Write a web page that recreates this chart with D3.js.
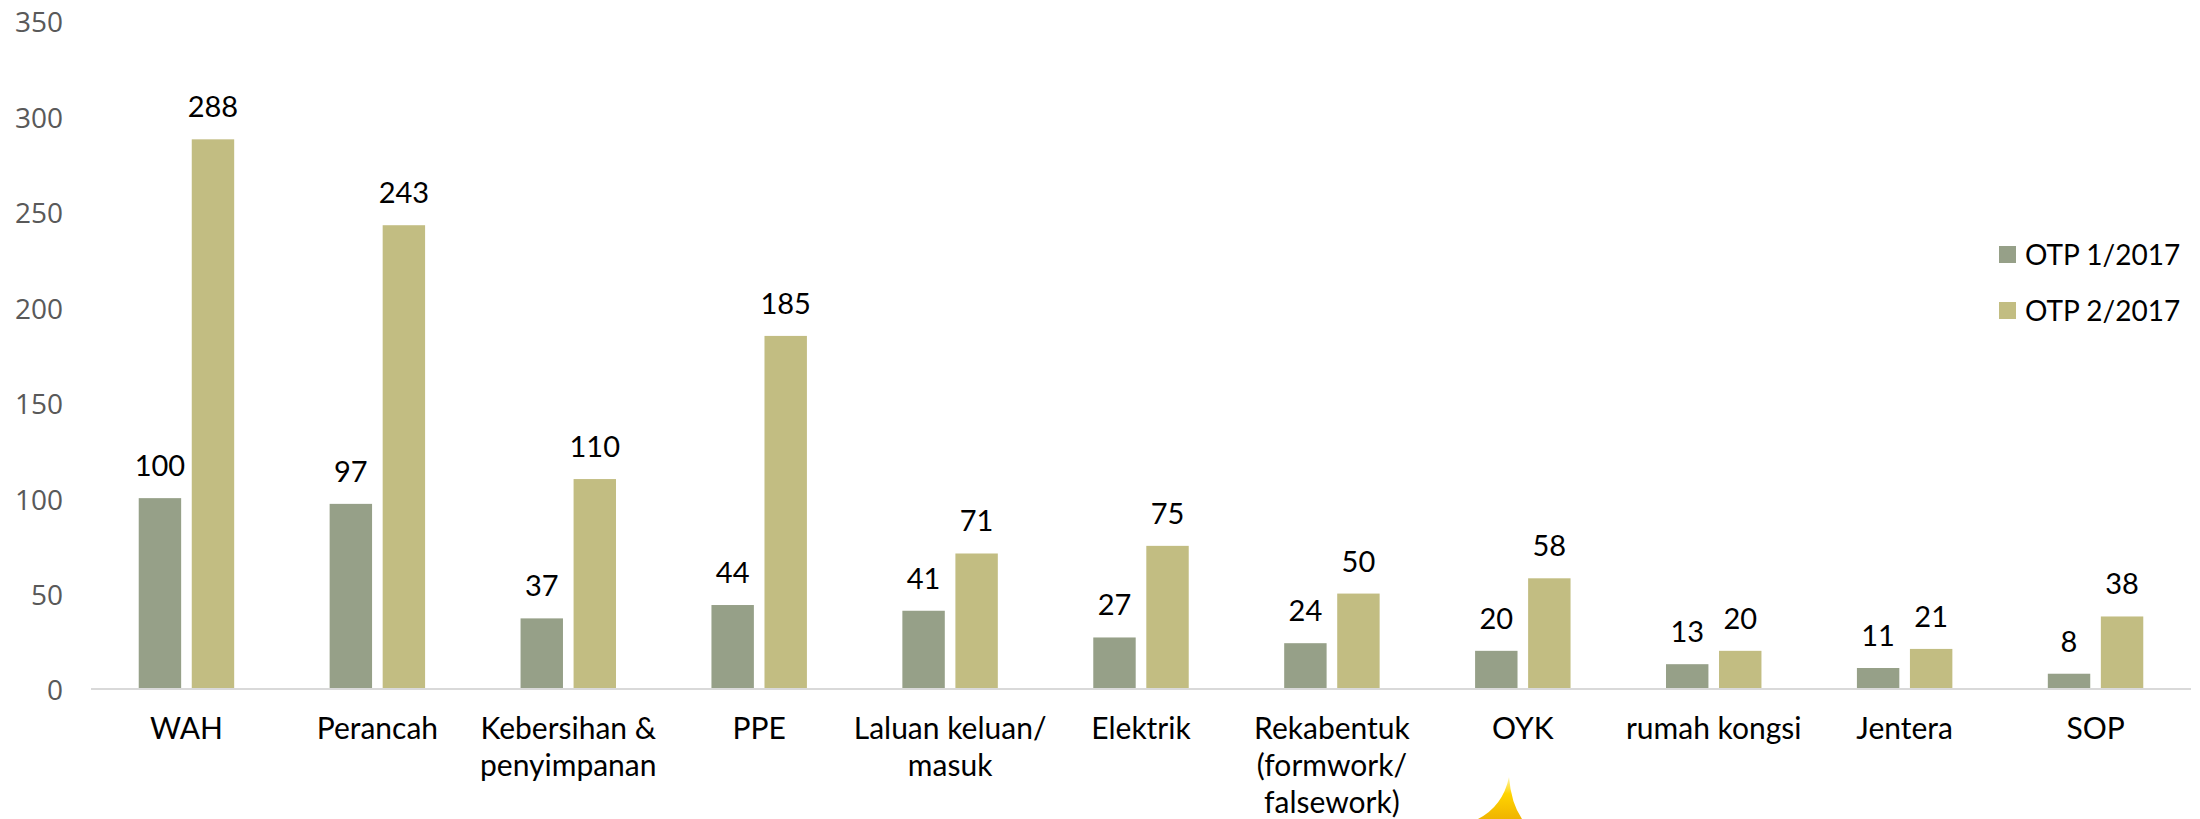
<!DOCTYPE html>
<html>
<head>
<meta charset="utf-8">
<script src="https://cdn.jsdelivr.net/npm/d3@7"></script>
<style>
  body { margin: 0; background: #fff; }
  svg { display: block; }
</style>
</head>
<body>
<div id="chart"></div>
<script>
// categories and series
const categories = ["WAH", "Perancah", "Kebersihan &\npenyimpanan", "PPE", "Laluan keluan/\nmasuk",
    "Elektrik", "Rekabentuk\n(formwork/\nfalsework)", "OYK", "rumah kongsi", "Jentera", "SOP"];
const seriesNames = ["OTP 1/2017", "OTP 2/2017"];
const otp1 = [100, 97, 37, 44, 41, 27, 24, 20, 13, 11, 8];
const otp2 = [288, 243, 110, 185, 71, 75, 50, 58, 20, 21, 38];
const yTicks = [0, 50, 100, 150, 200, 250, 300, 350];
const colors = ["#96a088", "#c2bd82"];

const W = 2200, H = 819;
const margin = {top: 21, left: 91, right: 9, bottom: 130};

const svg = d3.select("#chart").append("svg")
    .attr("width", W)
    .attr("height", H);

const x0 = d3.scaleBand()
    .domain(categories)
    .range([margin.left, W - margin.right])
    .padding(0);

const x1 = d3.scaleBand()
    .domain(seriesNames)
    .range([0, x0.bandwidth()])
    .paddingInner(0.2)
    .paddingOuter(0.9);

const y = d3.scaleLinear()
    .domain([0, 350])
    .range([H - margin.bottom, margin.top]);

// y axis labels only (no line, no ticks)
const yAxis = d3.axisLeft(y).tickValues(yTicks).tickSize(0).tickPadding(0);
const yG = svg.append("g")
    .attr("transform", "translate(63,2)")
    .call(yAxis);
yG.select(".domain").remove();
yG.selectAll("text")
    .style("font-family", "'Open Sans', sans-serif")
    .style("font-size", "28px")
    .attr("fill", "#595959");

// data table
const table = categories.map((c, i) => ({cat: c, vals: [otp1[i], otp2[i]]}));

const groups = svg.selectAll(".grp")
    .data(table)
    .enter().append("g")
    .attr("class", "grp")
    .attr("transform", d => "translate(" + x0(d.cat) + ",0)");

groups.selectAll("rect")
    .data(d => d.vals.map((v, j) => ({s: seriesNames[j], v: v, j: j})))
    .enter().append("rect")
    .attr("x", d => x1(d.s))
    .attr("y", d => y(d.v))
    .attr("width", x1.bandwidth())
    .attr("height", d => y(0) - y(d.v))
    .attr("fill", d => colors[d.j]);

groups.selectAll(".lbl")
    .data(d => d.vals.map((v, j) => ({s: seriesNames[j], v: v, j: j})))
    .enter().append("text")
    .attr("class", "lbl")
    .attr("x", d => x1(d.s) + x1.bandwidth() / 2)
    .attr("y", d => y(d.v) - 22)
    .attr("text-anchor", "middle")
    .style("font-family", "Lato, sans-serif")
    .style("font-size", "29px")
    .attr("fill", "#000")
    .text(d => d.v);

// baseline
svg.append("line")
    .attr("x1", margin.left)
    .attr("x2", W - margin.right)
    .attr("y1", y(0))
    .attr("y2", y(0))
    .attr("stroke", "#d9d9d9")
    .attr("stroke-width", 2);

// x axis category labels
const xAxis = d3.axisBottom(x0).tickSize(0).tickFormat("");
const xG = svg.append("g")
    .attr("transform", "translate(0," + y(0) + ")")
    .call(xAxis);
xG.select(".domain").remove();

xG.selectAll(".tick").each(function(d) {
    const t = d3.select(this).append("text")
        .attr("text-anchor", "middle")
        .attr("fill", "#000")
        .style("font-family", "Lato, sans-serif")
        .style("font-size", "30px");
    d.split("\n").forEach((line, k) => {
        t.append("tspan")
            .attr("x", 0)
            .attr("y", 50 + k * 37)
            .text(line);
    });
});

// legend
const legend = svg.selectAll(".legend")
    .data(seriesNames)
    .enter().append("g")
    .attr("class", "legend")
    .attr("transform", (d, i) => "translate(1999," + (255 + i * 56) + ")");
legend.append("rect")
    .attr("x", 0)
    .attr("y", -9)
    .attr("width", 17)
    .attr("height", 17)
    .attr("fill", (d, i) => colors[i]);
legend.append("text")
    .attr("x", 26)
    .attr("y", 10)
    .style("font-family", "Lato, sans-serif")
    .style("font-size", "28px")
    .attr("fill", "#000")
    .text(d => d);

// yellow sparkle fragment at bottom edge
const defs = svg.append("defs");
const grad = defs.append("linearGradient").attr("id", "spark")
    .attr("x1", "0").attr("y1", "0").attr("x2", "0").attr("y2", "1");
grad.append("stop").attr("offset", "0").attr("stop-color", "#fff6b0");
grad.append("stop").attr("offset", "0.4").attr("stop-color", "#ffd400");
grad.append("stop").attr("offset", "1").attr("stop-color", "#f0b400");
svg.append("path")
    .attr("d", "M1509,777 Q1503,806 1478,819 L1522,819 Q1511,803 1509,777 Z")
    .attr("fill", "url(#spark)");
</script>
</body>
</html>
